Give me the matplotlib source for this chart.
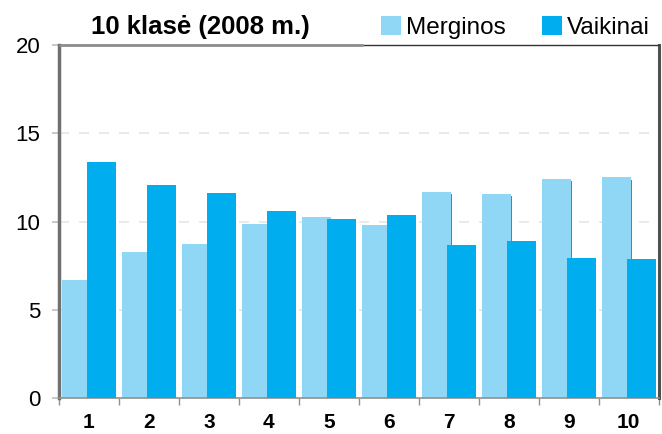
import numpy as np
import matplotlib.pyplot as plt

plt.rcParams['font.family'] = ['Liberation Sans', 'DejaVu Sans']

groups = ["1", "2", "3", "4", "5", "6", "7", "8", "9", "10"]
merginos = [6.7, 8.3, 8.7, 9.85, 10.25, 9.8, 11.7, 11.55, 12.4, 12.5]
vaikinai = [13.4, 12.1, 11.6, 10.6, 10.15, 10.4, 8.65, 8.9, 7.95, 7.85]

c_m = "#8fd7f5"
c_v = "#00adef"

fig = plt.figure(figsize=(6.62, 4.34), dpi=100)
ax = fig.add_axes([0.089, 0.083, 0.906, 0.813])

x = np.arange(len(groups))
w = 0.48
# light shadow behind the girls' bars
ax.bar(x - 0.21 + 0.03, np.array(merginos) - 0.12, w, color="#7a7a7a", zorder=1)
ax.bar(x - 0.21, merginos, w, color=c_m, zorder=2, label="Merginos")
ax.bar(x + 0.21, vaikinai, w, color=c_v, zorder=3, label="Vaikinai")

for yv in [5, 10, 15]:
    ax.axhline(yv, color="#e6e6e6", lw=1.2, ls=(0, (6, 6)), zorder=0)

ax.set_xlim(-0.5, len(groups) - 0.5)
ax.set_ylim(0, 20)
ax.set_yticks([0, 5, 10, 15, 20])
ax.tick_params(axis="y", labelsize=16, length=5, width=1.2, color="#c0c0c0", pad=8.5)
ax.set_xticks(x)
ax.set_xticklabels(groups, fontsize=15, fontweight="bold")
ax.tick_params(axis="x", length=0, pad=11)
ax.set_xticks(np.arange(-0.5, len(groups)), minor=True)
ax.tick_params(axis="x", which="minor", length=5, width=1, color="#909090")

ax.spines["left"].set_color("#707070")
ax.spines["left"].set_linewidth(2.5)
ax.spines["right"].set_color("#505050")
ax.spines["right"].set_linewidth(2.2)
ax.spines["top"].set_visible(False)
ax.plot([0, 0.507], [1, 1], transform=ax.transAxes, color="#8c8c8c", lw=2,
        clip_on=False, solid_capstyle="butt", zorder=5)
ax.plot([0.507, 1], [1, 1], transform=ax.transAxes, color="#333333", lw=1,
        clip_on=False, solid_capstyle="butt", zorder=5)
ax.spines["bottom"].set_color("#909090")
ax.spines["bottom"].set_linewidth(1.2)

fig.text(0.303, 0.938, "10 klasė (2008 m.)", fontsize=18.5, fontweight="bold",
         ha="center", va="center")
ax.legend(loc="center left", bbox_to_anchor=(0.537, 1.051), ncol=2, frameon=False,
          fontsize=17.5, handlelength=0.82, handleheight=0.82, handletextpad=0.2,
          columnspacing=1.5, borderaxespad=0, borderpad=0)

fig.savefig("out.png", dpi=100)
